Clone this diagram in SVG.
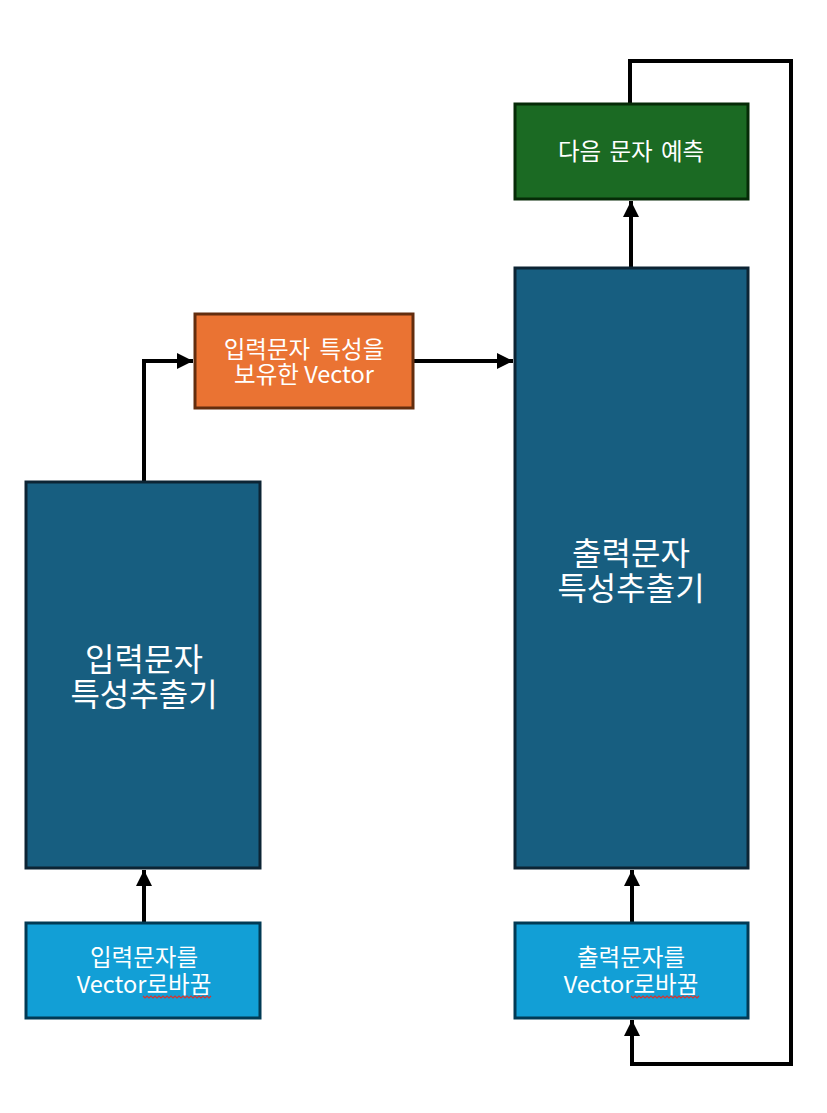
<svg xmlns="http://www.w3.org/2000/svg" width="827" height="1113" viewBox="0 0 827 1113">
<defs>
<style>
.txt{font-family:"Malgun Gothic","Noto Sans CJK KR","Liberation Sans",sans-serif;fill:#ffffff;text-anchor:middle}
.big{font-size:32px}
.sm{font-size:23.5px}
.tall{fill:#175e80;stroke:#0c2434;stroke-width:3}
.inp{fill:#129fd6;stroke:#013a55;stroke-width:3}
.con{fill:none;stroke:#000000;stroke-width:4}
.squig{fill:none;stroke:#d9342f;stroke-width:1.2}
</style>
<marker id="ah" viewBox="0 0 10 10" refX="10" refY="5" markerWidth="4" markerHeight="4" orient="auto" markerUnits="strokeWidth">
<path d="M0,0 L10,5 L0,10 Z" fill="#000000"/>
</marker>
</defs>
<rect width="827" height="1113" fill="#ffffff"/>
<g id="connectors">
<path class="con" d="M144,923 L144,870" marker-end="url(#ah)"/>
<path class="con" d="M144,482 L144,361 L193,361" marker-end="url(#ah)"/>
<path class="con" d="M413,361 L513,361" marker-end="url(#ah)"/>
<path class="con" d="M631,268 L631,201" marker-end="url(#ah)"/>
<path class="con" d="M632,923 L632,870" marker-end="url(#ah)"/>
<path class="con" d="M630,104 L630,61 L791,61 L791,1064 L632,1064 L632,1020" marker-end="url(#ah)"/>
</g>
<g id="input-encoder">
<rect class="tall" x="26" y="482" width="234" height="386"/>
<text class="txt big" x="144" y="671">입력문자</text>
<text class="txt big" x="144" y="706">특성추출기</text>
</g>
<g id="input-vector">
<rect class="inp" x="26" y="923" width="234" height="95"/>
<text class="txt sm" x="144" y="966">입력문자를</text>
<text class="txt sm" x="144" y="993">Vector로바꿈</text>
<path class="squig" d="M143,996 l2,2 l2,-2 l2,2 l2,-2 l2,2 l2,-2 l2,2 l2,-2 l2,2 l2,-2 l2,2 l2,-2 l2,2 l2,-2 l2,2 l2,-2 l2,2 l2,-2 l2,2 l2,-2 l2,2 l2,-2 l2,2 l2,-2 l2,2 l2,-2 l2,2 l2,-2 l2,2 l2,-2 l2,2 l2,-2 l2,2 l2,-2"/>
</g>
<g id="context-vector">
<rect x="195" y="314" width="218" height="94" fill="#ea7333" stroke="#632d0e" stroke-width="3"/>
<text class="txt sm" x="304" y="358" word-spacing="4">입력문자 특성을</text>
<text class="txt sm" x="304" y="383">보유한 Vector</text>
</g>
<g id="output-decoder">
<rect class="tall" x="515" y="268" width="233" height="600"/>
<text class="txt big" x="631" y="565">출력문자</text>
<text class="txt big" x="631" y="600">특성추출기</text>
</g>
<g id="next-char">
<rect x="515" y="104" width="233" height="95" fill="#1b6a23" stroke="#062b07" stroke-width="3"/>
<text class="txt sm" x="631" y="160" word-spacing="3">다음 문자 예측</text>
</g>
<g id="output-vector">
<rect class="inp" x="515" y="923" width="233" height="95"/>
<text class="txt sm" x="631" y="966">출력문자를</text>
<text class="txt sm" x="631" y="993">Vector로바꿈</text>
<path class="squig" d="M631,996 l2,2 l2,-2 l2,2 l2,-2 l2,2 l2,-2 l2,2 l2,-2 l2,2 l2,-2 l2,2 l2,-2 l2,2 l2,-2 l2,2 l2,-2 l2,2 l2,-2 l2,2 l2,-2 l2,2 l2,-2 l2,2 l2,-2 l2,2 l2,-2 l2,2 l2,-2 l2,2 l2,-2 l2,2 l2,-2 l2,2 l2,-2"/>
</g>
</svg>
